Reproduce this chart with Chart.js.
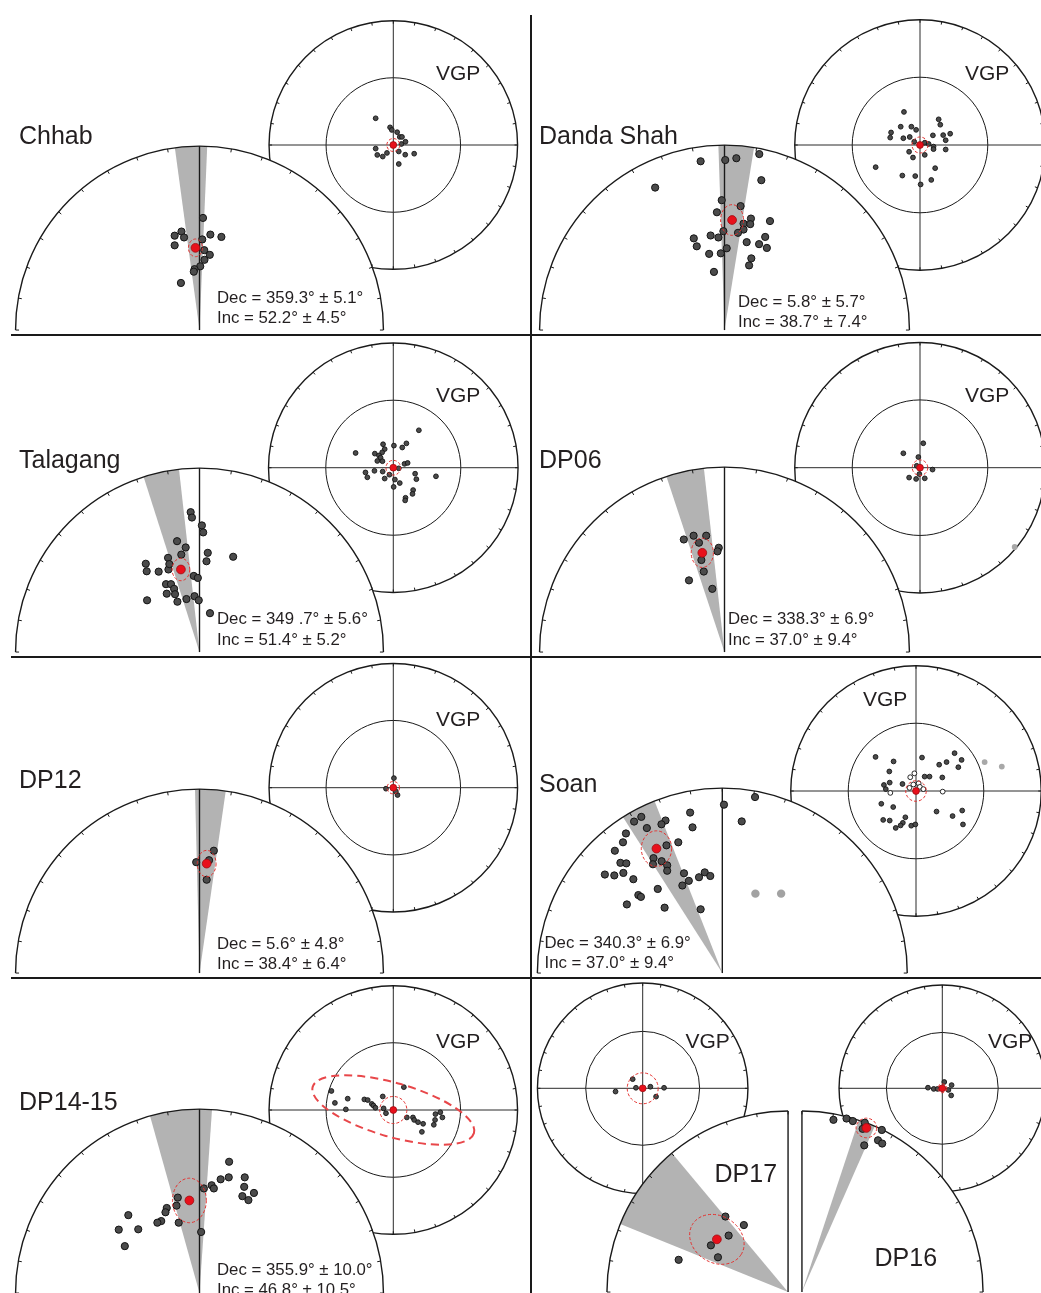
<!DOCTYPE html>
<html>
<head>
<meta charset="utf-8">
<title>Site mean directions and VGPs</title>
<script src="https://cdn.jsdelivr.net/npm/chart.js@4.4.1/dist/chart.umd.min.js"></script>
<style>
    html, body { margin: 0; padding: 0; width: 1041px; height: 1293px; overflow: hidden; background: #fff; }
    #figure { position: relative; width: 1041px; height: 1293px; overflow: hidden; }
    .plot { position: absolute; }
    .label { position: absolute; white-space: nowrap; line-height: 1; color: #231f20;
             font-family: "Liberation Sans", Arial, Helvetica, sans-serif; }
    .rule { position: absolute; background: #1a1a1a; }
</style>
</head>
<body>
<div id="figure"></div>
<script>
// Site data.
// Directions and VGPs are equal-area projected coordinates
// (x = east, y = north, primitive circle = 1).
// Wedges: declination error as azimuths (deg from north).
// Cones: [semi-axis x, semi-axis y, tilt deg].

// Chhab
const chhabDirs = [
    [0.019, 0.626], [-0.098, 0.550], [-0.135, 0.527], [-0.084, 0.517], [-0.135, 0.473],
    [0.059, 0.533], [0.119, 0.520], [0.015, 0.506], [0.026, 0.446], [0.056, 0.420],
    [0.027, 0.392], [0.004, 0.356], [-0.027, 0.340], [-0.031, 0.326], [-0.101, 0.263]
];
const chhabMean = [-0.022, 0.459];
const chhabWedge = [-7.7, 2.4];
const chhabCone = [0.038, 0.048, 0];
const chhabVgps = [
    [-0.142, 0.215], [-0.026, 0.142], [-0.012, 0.121], [0.031, 0.103], [0.052, 0.065], [0.070, 0.065],
    [0.098, 0.026], [0.065, 0.008], [0.044, -0.052], [0.096, -0.078], [0.168, -0.070], [0.044, -0.153],
    [-0.142, -0.029], [-0.129, -0.080], [-0.085, -0.093], [-0.051, -0.064]
];
const chhabVgpCone = 0.052;
const chhabStats = ['Dec = 359.3° ± 5.1°', 'Inc = 52.2° ± 4.5°'];

// Danda Shah
const dandaDirs = [
    [-0.129, 0.937], [0.004, 0.944], [0.064, 0.954], [0.188, 0.977], [-0.375, 0.791], [0.199, 0.832],
    [-0.015, 0.721], [0.087, 0.688], [-0.041, 0.654], [0.143, 0.619], [0.246, 0.605], [0.103, 0.591],
    [0.139, 0.588], [0.103, 0.558], [0.073, 0.540], [-0.006, 0.549], [-0.075, 0.525], [-0.033, 0.514],
    [-0.166, 0.509], [-0.150, 0.465], [0.220, 0.517], [0.120, 0.488], [0.187, 0.477], [0.229, 0.456],
    [0.012, 0.454], [-0.020, 0.426], [-0.083, 0.423], [0.145, 0.398], [0.133, 0.359], [-0.057, 0.323]
];
const dandaMean = [0.041, 0.611];
const dandaWedge = [-1.9, 9.2];
const dandaCone = [0.062, 0.083, 0];
const dandaVgps = [
    [-0.128, 0.264], [0.149, 0.205], [0.162, 0.162], [-0.154, 0.146], [-0.069, 0.146], [-0.031, 0.121],
    [-0.231, 0.100], [-0.238, 0.059], [-0.133, 0.054], [-0.082, 0.064], [0.103, 0.077], [0.185, 0.079],
    [0.241, 0.090], [0.205, 0.038], [-0.046, 0.026], [0.038, 0.018], [0.069, 0.008], [0.108, -0.013],
    [0.108, -0.033], [0.205, -0.036], [-0.087, -0.054], [-0.056, -0.100], [0.038, -0.079], [-0.354, -0.177],
    [0.121, -0.185], [-0.141, -0.244], [-0.038, -0.248], [0.090, -0.279], [0.005, -0.315]
];
const dandaVgpCone = 0.064;
const dandaStats = ['Dec = 5.8° ± 5.7°', 'Inc = 38.7° ± 7.4°'];

// Talagang
const talagangDirs = [
    [-0.048, 0.781], [-0.041, 0.751], [0.013, 0.707], [0.020, 0.668], [-0.122, 0.619], [-0.075, 0.584],
    [-0.099, 0.544], [-0.171, 0.526], [0.045, 0.554], [0.038, 0.507], [0.183, 0.532], [-0.292, 0.493],
    [-0.287, 0.451], [-0.222, 0.449], [-0.169, 0.461], [-0.164, 0.491], [-0.031, 0.425], [-0.009, 0.414],
    [-0.182, 0.379], [-0.155, 0.379], [-0.138, 0.353], [-0.178, 0.326], [-0.133, 0.323], [-0.120, 0.281],
    [-0.071, 0.296], [-0.027, 0.312], [-0.004, 0.289], [-0.285, 0.289], [0.057, 0.217]
];
const talagangMean = [-0.101, 0.461];
const talagangWedge = [-17.7, -6.4];
const talagangCone = [0.048, 0.061, 0];
const talagangVgps = [
    [0.205, 0.300], [-0.082, 0.188], [0.005, 0.177], [0.105, 0.195], [0.072, 0.162], [-0.302, 0.118],
    [-0.069, 0.149], [-0.089, 0.123], [-0.148, 0.113], [-0.115, 0.098], [-0.102, 0.080], [-0.128, 0.054],
    [-0.087, 0.052], [0.090, 0.031], [0.115, 0.038], [0.044, -0.005], [-0.223, -0.038], [-0.208, -0.077],
    [-0.151, -0.025], [-0.085, -0.031], [-0.069, -0.087], [-0.031, -0.056], [0.013, -0.095], [0.052, -0.123],
    [0.003, -0.154], [0.175, -0.048], [0.185, -0.092], [0.342, -0.069], [0.159, -0.179], [0.154, -0.210],
    [0.098, -0.241], [0.095, -0.262]
];
const talagangVgpCone = 0.059;
const talagangStats = ['Dec = 349 .7° ± 5.6°', 'Inc = 51.4° ± 5.2°'];

// DP06
const dp06Dirs = [
    [-0.220, 0.625], [-0.167, 0.646], [-0.099, 0.646], [-0.138, 0.607], [-0.031, 0.579],
    [-0.038, 0.559], [-0.125, 0.511], [-0.112, 0.447], [-0.192, 0.398], [-0.066, 0.351]
];
const dp06Mean = [-0.120, 0.551];
const dp06Wedge = [-18.3, -6.4];
const dp06Cone = [0.060, 0.079, 0];
const dp06Vgps = [
    [0.026, 0.195], [-0.133, 0.115], [-0.013, 0.085], [-0.026, 0.015], [0.100, -0.015],
    [-0.087, -0.079], [-0.031, -0.090], [0.038, -0.085], [-0.005, -0.051]
];
const dp06VgpsRejected = [[0.756, -0.633]];
const dp06VgpCone = 0.062;
const dp06Stats = ['Dec = 338.3° ± 6.9°', 'Inc = 37.0° ± 9.4°'];

// DP12
const dp12Dirs = [[0.078, 0.683], [0.052, 0.630], [-0.018, 0.619], [0.039, 0.521]];
const dp12Mean = [0.039, 0.611];
const dp12Wedge = [-1.4, 8.2];
const dp12Cone = [0.051, 0.072, 0];
const dp12Vgps = [[0.005, 0.077], [-0.059, -0.008], [0.034, -0.059], [0.020, -0.030]];
const dp12VgpCone = 0.050;
const dp12Stats = ['Dec = 5.6° ± 4.8°', 'Inc = 38.4° ± 6.4°'];

// Soan
const soanDirs = [
    [0.009, 0.935], [0.177, 0.977], [0.105, 0.842], [-0.174, 0.891], [-0.161, 0.809], [-0.307, 0.847],
    [-0.329, 0.826], [-0.438, 0.867], [-0.477, 0.841], [-0.408, 0.805], [-0.521, 0.775], [-0.537, 0.726],
    [-0.581, 0.679], [-0.238, 0.726], [-0.302, 0.709], [-0.551, 0.612], [-0.519, 0.609], [-0.372, 0.638],
    [-0.375, 0.604], [-0.328, 0.621], [-0.298, 0.598], [-0.298, 0.568], [-0.635, 0.547], [-0.584, 0.542],
    [-0.535, 0.556], [-0.481, 0.521], [-0.207, 0.554], [-0.181, 0.512], [-0.216, 0.486], [-0.126, 0.532],
    [-0.095, 0.559], [-0.065, 0.539], [-0.349, 0.467], [-0.454, 0.433], [-0.440, 0.423], [-0.516, 0.381],
    [-0.312, 0.363], [-0.117, 0.354]
];
const soanDirsRejected = [[0.179, 0.441], [0.318, 0.441]];
const soanMean = [-0.356, 0.691];
const soanWedge = [-32.5, -21.5];
const soanCone = [0.082, 0.096, 0];
const soanVgps = [
    [-0.323, 0.272], [-0.179, 0.236], [0.048, 0.267], [0.308, 0.302], [0.364, 0.248], [0.185, 0.210],
    [0.244, 0.231], [0.338, 0.190], [-0.213, 0.156], [0.069, 0.115], [0.108, 0.115], [0.210, 0.108],
    [-0.256, 0.048], [-0.210, 0.067], [-0.108, 0.056], [-0.241, 0.015], [-0.277, -0.102], [-0.182, -0.128],
    [0.164, -0.164], [0.369, -0.156], [0.292, -0.200], [0.375, -0.267], [-0.262, -0.231], [-0.210, -0.236],
    [-0.085, -0.210], [-0.105, -0.254], [-0.162, -0.295], [-0.123, -0.275], [-0.038, -0.277], [-0.005, -0.267]
];
const soanVgpsOpen = [
    [-0.013, 0.141], [-0.046, 0.110], [-0.205, -0.015], [-0.052, 0.025], [-0.021, 0.052],
    [0.021, 0.062], [0.031, 0.033], [0.059, 0.015], [0.213, -0.005]
];
const soanVgpsRejected = [[0.548, 0.231], [0.685, 0.195]];
const soanVgpCone = 0.082;
const soanStats = ['Dec = 340.3° ± 6.9°', 'Inc = 37.0° ± 9.4°'];

// DP14-15
const dp1415Dirs = [
    [0.161, 0.733], [0.159, 0.646], [0.115, 0.635], [0.246, 0.646], [0.243, 0.593], [0.024, 0.584],
    [0.066, 0.602], [0.078, 0.584], [0.296, 0.559], [0.233, 0.541], [0.266, 0.519], [-0.118, 0.533],
    [-0.125, 0.488], [-0.178, 0.475], [-0.185, 0.451], [-0.208, 0.402], [-0.229, 0.393], [-0.113, 0.393],
    [-0.387, 0.435], [-0.439, 0.354], [-0.333, 0.356], [-0.406, 0.262], [0.009, 0.341]
];
const dp1415Mean = [-0.055, 0.517];
const dp1415Wedge = [-15.6, 3.9];
const dp1415Cone = [0.092, 0.121, 0];
const dp1415Vgps = [
    [-0.498, 0.153], [-0.470, 0.057], [-0.367, 0.091], [-0.382, 0.005], [-0.233, 0.085], [-0.206, 0.080],
    [-0.173, 0.049], [-0.160, 0.036], [-0.144, 0.018], [-0.085, 0.109], [0.085, 0.184], [-0.078, 0.013],
    [-0.059, -0.026], [0.109, -0.060], [0.158, -0.060], [0.168, -0.080], [0.199, -0.098], [0.240, -0.111],
    [0.230, -0.176], [0.326, -0.119], [0.336, -0.080], [0.339, -0.033], [0.378, -0.018], [0.395, -0.060]
];
const dp1415VgpCone = 0.109;
const dp1415VgpSpread = [0.675, 0.217, -16];
const dp1415Stats = ['Dec = 355.9° ± 10.0°', 'Inc = 46.8° ± 10.5°'];

// DP17
const dp17Dirs = [[-0.346, 0.417], [-0.244, 0.370], [-0.328, 0.312], [-0.426, 0.258], [-0.387, 0.192], [-0.604, 0.178]];
const dp17Mean = [-0.393, 0.291];
const dp17Wedge = [-67.9, -39.9];
const dp17Cone = [0.158, 0.129, -32];
const dp17Vgps = [[-0.095, 0.087], [-0.258, -0.031], [-0.064, 0.005], [0.073, 0.015], [0.203, 0.005], [0.127, -0.079]];
const dp17VgpCone = 0.147;

// DP16
const dp16Dirs = [
    [0.174, 0.951], [0.246, 0.958], [0.281, 0.944], [0.347, 0.935], [0.335, 0.901],
    [0.441, 0.895], [0.420, 0.838], [0.443, 0.820], [0.344, 0.810]
];
const dp16Mean = [0.356, 0.906];
const dp16Wedge = [18.3, 23.7];
const dp16Cone = [0.057, 0.054, 0];
const dp16Vgps = [[-0.139, 0.006], [-0.083, -0.006], [0.019, 0.061], [0.090, 0.031], [0.059, -0.016], [0.086, -0.069], [-0.046, -0.006]];
const dp16VgpCone = 0.043;

// each VGP net is centred on the site mean pole
const VGP_MEAN = [0, 0];

const toRad = deg => deg * Math.PI / 180;
const xy = pts => pts.map(([x, y]) => ({ x, y }));
// reference ring on the VGP nets: 45 deg colatitude, equal-area
const VGP_RING = Math.SQRT2 * Math.sin(toRad(45 / 2));

// Page layout (pixels): net = [cx, cy, R, azFrom, azTo], vgp = [cx, cy, r], labels = [x, baseline]
const LAYOUT = {
    'Chhab':      { net: [199.5, 335, 189, -90, 90], vgp: [393.3, 145, 129],    title: [19, 144],     vgpLabel: [436, 80],     stats: [217, 304] },
    'Danda Shah': { net: [724.5, 335, 190, -90, 90], vgp: [920, 145, 130],      title: [539, 144],    vgpLabel: [965, 80],     stats: [738, 308.3] },
    'Talagang':   { net: [199.5, 657, 189, -90, 90], vgp: [393.3, 467.7, 129.5], title: [19, 468.3],  vgpLabel: [436, 401.7],  stats: [217, 625.7] },
    'DP06':       { net: [724.5, 657, 190, -90, 90], vgp: [920, 467.7, 130],    title: [539, 468.3],  vgpLabel: [965, 401.7],  stats: [728, 625.7] },
    'DP12':       { net: [199.5, 978, 189, -90, 90], vgp: [393.3, 787.7, 129],  title: [19, 788.3],   vgpLabel: [436, 726],    stats: [217, 950] },
    'Soan':       { net: [722.3, 978, 190, -90, 90], vgp: [916, 791, 130],      title: [539, 791.7],  vgpLabel: [863, 706],    stats: [544.5, 949] },
    'DP14-15':    { net: [199.5, 1298, 189, -90, 90], vgp: [393.3, 1110, 129],  title: [19, 1110],    vgpLabel: [436, 1047.7], stats: [217, 1276] },
    'DP17':       { net: [793, 1297, 191, -90, 0],   vgp: [642.7, 1088.3, 110], title: [714.5, 1182.3], vgpLabel: [685.5, 1047.7] },
    'DP16':       { net: [797, 1297, 191, 0, 90],    vgp: [942.3, 1088.3, 108], title: [874.5, 1266], vgpLabel: [988, 1047.7] }
};

const SITES = [
    { name: 'Chhab', dirs: chhabDirs, mean: chhabMean, wedge: chhabWedge, cone: chhabCone, vgps: chhabVgps, vgpCone: chhabVgpCone, stats: chhabStats },
    { name: 'Danda Shah', dirs: dandaDirs, mean: dandaMean, wedge: dandaWedge, cone: dandaCone, vgps: dandaVgps, vgpCone: dandaVgpCone, stats: dandaStats },
    { name: 'Talagang', dirs: talagangDirs, mean: talagangMean, wedge: talagangWedge, cone: talagangCone, vgps: talagangVgps, vgpCone: talagangVgpCone, stats: talagangStats },
    { name: 'DP06', dirs: dp06Dirs, mean: dp06Mean, wedge: dp06Wedge, cone: dp06Cone, vgps: dp06Vgps, vgpsRejected: dp06VgpsRejected, vgpCone: dp06VgpCone, stats: dp06Stats },
    { name: 'DP12', dirs: dp12Dirs, mean: dp12Mean, wedge: dp12Wedge, cone: dp12Cone, vgps: dp12Vgps, vgpCone: dp12VgpCone, stats: dp12Stats },
    { name: 'Soan', dirs: soanDirs, dirsRejected: soanDirsRejected, mean: soanMean, wedge: soanWedge, cone: soanCone, vgps: soanVgps, vgpsOpen: soanVgpsOpen, vgpsRejected: soanVgpsRejected, vgpCone: soanVgpCone, stats: soanStats },
    { name: 'DP14-15', dirs: dp1415Dirs, mean: dp1415Mean, wedge: dp1415Wedge, cone: dp1415Cone, vgps: dp1415Vgps, vgpCone: dp1415VgpCone, vgpSpread: dp1415VgpSpread, stats: dp1415Stats },
    { name: 'DP17', dirs: dp17Dirs, mean: dp17Mean, wedge: dp17Wedge, cone: dp17Cone, vgps: dp17Vgps, vgpCone: dp17VgpCone },
    { name: 'DP16', dirs: dp16Dirs, mean: dp16Mean, wedge: dp16Wedge, cone: dp16Cone, vgps: dp16Vgps, vgpCone: dp16VgpCone }
];

const INK = '#1a1a1a';
const POINT = {
    site:     { pointRadius: 3.6, pointBackgroundColor: '#4b4b4b', pointBorderColor: '#141414', pointBorderWidth: 1 },
    siteVgp:  { pointRadius: 2.4, pointBackgroundColor: '#4b4b4b', pointBorderColor: '#141414', pointBorderWidth: 0.9 },
    openVgp:  { pointRadius: 2.4, pointBackgroundColor: '#ffffff', pointBorderColor: '#141414', pointBorderWidth: 0.9 },
    rejected: { pointRadius: 4.2, pointBackgroundColor: '#a2a2a2', pointBorderWidth: 0 },
    rejectedVgp: { pointRadius: 2.9, pointBackgroundColor: '#a8a8a8', pointBorderWidth: 0 },
    mean:     { pointRadius: 4.4, pointBackgroundColor: '#e8101b', pointBorderColor: '#9e0c12', pointBorderWidth: 0.8 },
    meanVgp:  { pointRadius: 3.4, pointBackgroundColor: '#e8101b', pointBorderColor: '#9e0c12', pointBorderWidth: 0.8 }
};
const CONE = { color: '#e5312f', width: 1, dash: [3, 2] };
const SPREAD = { color: '#e8474a', width: 2, dash: [8, 5] };

class PaleomagFigure {
    constructor(root, sites) {
        this.root = root;
        this.sites = sites;
        this.charts = new Map();
        this.init();
    }

    init() {
        // VGP net first, the direction net overlaps it
        this.sites.forEach(site => {
            this.charts.set(site.name + ' VGP', this.createVgpChart(site));
            this.charts.set(site.name, this.createNetChart(site));
        });
        this.sites.forEach(site => this.addLabels(site));
        this.addRules();
    }

    // pixel box for a net, with scale limits that keep x and y equal
    box(cx, cy, R, x0, x1, y0, y1) {
        const left = Math.floor(cx + x0 * R), right = Math.ceil(cx + x1 * R);
        const top = Math.floor(cy - y1 * R), bottom = Math.ceil(cy - y0 * R);
        return {
            left, top, width: right - left, height: bottom - top,
            xmin: (left - cx) / R, xmax: (right - cx) / R,
            ymin: (cy - bottom) / R, ymax: (cy - top) / R
        };
    }

    makeCanvas(b) {
        const canvas = document.createElement('canvas');
        canvas.className = 'plot';
        canvas.width = b.width;
        canvas.height = b.height;
        Object.assign(canvas.style, {
            left: b.left + 'px', top: b.top + 'px', width: b.width + 'px', height: b.height + 'px'
        });
        this.root.appendChild(canvas);
        return canvas;
    }

    config(b, datasets, frame) {
        return {
            type: 'scatter',
            data: { datasets },
            options: {
                responsive: false,
                animation: false,
                events: [],
                layout: { padding: 0 },
                scales: {
                    x: { type: 'linear', min: b.xmin, max: b.xmax, display: false },
                    y: { type: 'linear', min: b.ymin, max: b.ymax, display: false }
                },
                plugins: { legend: { display: false }, tooltip: { enabled: false } }
            },
            plugins: [frame]
        };
    }

    createNetChart(site) {
        const [cx, cy, R, az0, az1] = LAYOUT[site.name].net;
        const m = 0.025;
        const b = this.box(cx, cy, R, az0 < 0 ? -1 - m : -m, az1 > 0 ? 1 + m : m, -m, 1 + m);
        const datasets = [
            { data: xy([site.mean]), ...POINT.mean, order: 0 },
            { data: xy(site.dirs), ...POINT.site, order: 1 },
            { data: xy(site.dirsRejected || []), ...POINT.rejected, order: 2 }
        ];
        const frame = {
            id: 'netFrame',
            beforeDatasetsDraw: chart => drawNetFrame(chart, site.wedge, az0, az1),
            beforeDatasetDraw: (chart, args) => {
                if (args.index === 0) drawCone(chart, site.mean, site.cone, CONE);
            }
        };
        return new Chart(this.makeCanvas(b), this.config(b, datasets, frame));
    }

    createVgpChart(site) {
        const [cx, cy, r] = LAYOUT[site.name].vgp;
        const m = 0.03;
        const b = this.box(cx, cy, r, -1 - m, 1 + m, -1 - m, 1 + m);
        const datasets = [
            { data: xy([VGP_MEAN]), ...POINT.meanVgp, order: 0 },
            { data: xy(site.vgps), ...POINT.siteVgp, order: 1 },
            { data: xy(site.vgpsOpen || []), ...POINT.openVgp, order: 2 },
            { data: xy(site.vgpsRejected || []), ...POINT.rejectedVgp, order: 3 }
        ];
        const frame = {
            id: 'vgpFrame',
            beforeDatasetsDraw: chart => drawVgpFrame(chart),
            beforeDatasetDraw: (chart, args) => {
                if (args.index !== 0) return;
                drawCone(chart, VGP_MEAN, [site.vgpCone, site.vgpCone, 0], CONE);
                if (site.vgpSpread) drawCone(chart, VGP_MEAN, site.vgpSpread, SPREAD);
            }
        };
        return new Chart(this.makeCanvas(b), this.config(b, datasets, frame));
    }

    addLabel(text, x, baseline, size) {
        const el = document.createElement('div');
        el.className = 'label';
        el.textContent = text;
        el.style.fontSize = size + 'px';
        el.style.left = x + 'px';
        el.style.top = (baseline - 0.8465 * size) + 'px';
        this.root.appendChild(el);
    }

    addLabels(site) {
        const spot = LAYOUT[site.name];
        this.addLabel(site.name, spot.title[0], spot.title[1], 25);
        this.addLabel('VGP', spot.vgpLabel[0], spot.vgpLabel[1], 21);
        (site.stats || []).forEach((line, i) => {
            this.addLabel(line, spot.stats[0], spot.stats[1] + i * 20.3, 16.8);
        });
    }

    addRules() {
        // panel frame: one vertical divider, three row baselines
        const rules = [[530, 15, 2, 1278], [11, 334, 1030, 2], [11, 656, 1030, 2], [11, 977, 1030, 2]];
        rules.forEach(([left, top, width, height]) => {
            const el = document.createElement('div');
            el.className = 'rule';
            Object.assign(el.style, { left: left + 'px', top: top + 'px', width: width + 'px', height: height + 'px' });
            this.root.appendChild(el);
        });
    }
}

function netGeometry(chart) {
    const { x, y } = chart.scales;
    const ox = x.getPixelForValue(0), oy = y.getPixelForValue(0);
    return {
        ox, oy,
        R: x.getPixelForValue(1) - ox,
        px: v => x.getPixelForValue(v),
        py: v => y.getPixelForValue(v)
    };
}

function drawTicks(ctx, g, from, to, len) {
    ctx.beginPath();
    for (let az = from; az <= to; az += 10) {
        const a = toRad(az - 90), c = Math.cos(a), s = Math.sin(a);
        ctx.moveTo(g.ox + c * g.R, g.oy + s * g.R);
        ctx.lineTo(g.ox + c * (g.R - len), g.oy + s * (g.R - len));
    }
    ctx.stroke();
}

function drawNetFrame(chart, wedge, az0, az1) {
    const { ctx } = chart;
    const g = netGeometry(chart);
    const ang = az => toRad(az - 90);
    ctx.save();
    // white backing so the VGP net underneath is hidden
    ctx.beginPath();
    ctx.moveTo(g.ox, g.oy);
    ctx.arc(g.ox, g.oy, g.R, ang(az0), ang(az1));
    ctx.closePath();
    ctx.fillStyle = '#fff';
    ctx.fill();
    // declination error wedge
    ctx.beginPath();
    ctx.moveTo(g.ox, g.oy);
    ctx.arc(g.ox, g.oy, g.R, ang(wedge[0]), ang(wedge[1]));
    ctx.closePath();
    ctx.fillStyle = '#b3b3b3';
    ctx.fill();
    // primitive and north line
    ctx.strokeStyle = INK;
    ctx.lineWidth = 1.4;
    ctx.beginPath();
    ctx.arc(g.ox, g.oy, g.R, ang(az0), ang(az1));
    ctx.stroke();
    ctx.beginPath();
    ctx.moveTo(g.ox, g.oy);
    ctx.lineTo(g.ox, g.oy - g.R);
    ctx.stroke();
    ctx.lineWidth = 1;
    drawTicks(ctx, g, az0, az1, 3.5);
    ctx.restore();
}

function drawVgpFrame(chart) {
    const { ctx } = chart;
    const g = netGeometry(chart);
    ctx.save();
    ctx.beginPath();
    ctx.arc(g.ox, g.oy, g.R, 0, 2 * Math.PI);
    ctx.fillStyle = '#fff';
    ctx.fill();
    ctx.strokeStyle = INK;
    ctx.lineWidth = 1.4;
    ctx.stroke();
    ctx.lineWidth = 1;
    ctx.beginPath();
    ctx.arc(g.ox, g.oy, g.R * VGP_RING, 0, 2 * Math.PI);
    ctx.stroke();
    ctx.strokeStyle = '#2b2b2b';
    ctx.beginPath();
    ctx.moveTo(g.ox - g.R, g.oy);
    ctx.lineTo(g.ox + g.R, g.oy);
    ctx.moveTo(g.ox, g.oy - g.R);
    ctx.lineTo(g.ox, g.oy + g.R);
    ctx.stroke();
    ctx.strokeStyle = INK;
    drawTicks(ctx, g, 0, 350, 3);
    ctx.restore();
}

function drawCone(chart, centre, [a, b, tilt], style) {
    const { ctx } = chart;
    const g = netGeometry(chart);
    ctx.save();
    ctx.beginPath();
    ctx.ellipse(g.px(centre[0]), g.py(centre[1]), a * g.R, b * g.R, -toRad(tilt), 0, 2 * Math.PI);
    ctx.setLineDash(style.dash);
    ctx.lineWidth = style.width;
    ctx.strokeStyle = style.color;
    ctx.stroke();
    ctx.restore();
}

// Initialize figure
const figure = new PaleomagFigure(document.getElementById('figure'), SITES);
</script>
</body>
</html>
